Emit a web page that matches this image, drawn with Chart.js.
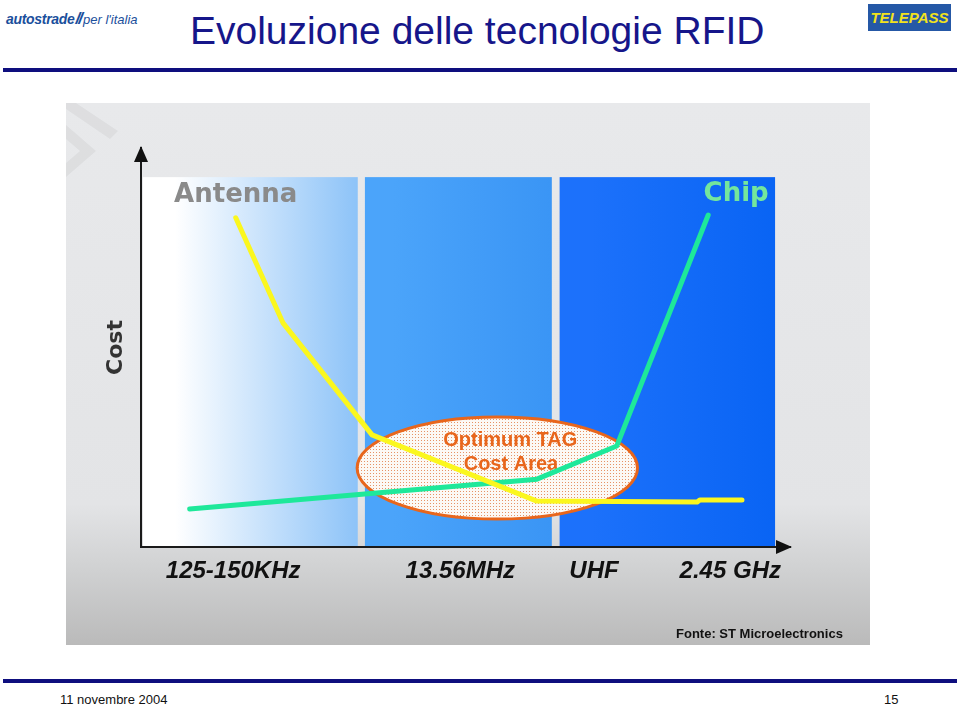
<!DOCTYPE html>
<html lang="it">
<head>
<meta charset="UTF-8">
<title>Evoluzione delle tecnologie RFID</title>
<script src="https://cdn.jsdelivr.net/npm/chart.js"></script>
<style>
  body {
    margin: 0;
    width: 960px;
    height: 708px;
    background: #fff;
    position: relative;
    overflow: hidden;
    font-family: 'Liberation Sans', Arial, sans-serif;
  }
  .logo-left {
    position: absolute;
    left: 6px;
    top: 9px;
    font-size: 14px;
    color: #1b4f9c;
    white-space: nowrap;
  }
  .logo-left b { font-style: italic; letter-spacing: -0.3px; }
  .logo-left .bars { font-weight: bold; font-style: italic; font-size: 17px; letter-spacing: -2px; margin: 0 2px 0 1px; }
  .logo-left i { font-weight: normal; font-size: 13px; }
  .title {
    position: absolute;
    left: 190px;
    top: 11px;
    font-size: 39px;
    line-height: 39px;
    color: #16168a;
    white-space: nowrap;
  }
  .rule {
    position: absolute;
    left: 3px;
    width: 954px;
    height: 4px;
    background: #0e0e7e;
  }
  .telepass {
    position: absolute;
    left: 868px;
    top: 4px;
    width: 83px;
    height: 27px;
    background: #2558a6;
    color: #f2e21c;
    font-weight: bold;
    font-style: italic;
    font-size: 15px;
    line-height: 27px;
    text-align: center;
  }
  #wrap {
    position: absolute;
    left: 66px;
    top: 103px;
    width: 804px;
    height: 542px;
  }
  .foot {
    position: absolute;
    top: 692px;
    font-size: 13px;
    color: #111;
  }
</style>
</head>
<body>

<div class="logo-left"><b>autostrade</b><span class="bars">//</span><i>per l'italia</i></div>
<div class="title">Evoluzione delle tecnologie RFID</div>
<div class="telepass">TELEPASS</div>
<div class="rule" style="top:68px"></div>

<div id="wrap"><canvas id="chart" width="804" height="542"></canvas></div>

<div class="rule" style="top:679px"></div>
<div class="foot" style="left:60px">11 novembre 2004</div>
<div class="foot" style="left:884px">15</div>

<script>
  // frequency band axis (0-100) and relative cost (0-100)
  const tickPos = [14.2, 49.2, 69.8, 90.8];
  const tickLabels = ['125-150KHz', '13.56MHz', 'UHF', '2.45 GHz'];

  const antennaX = [14.6, 21.9, 35.6, 61.0, 85.7, 86.1, 92.6];
  const antennaY = [82.5, 56.1, 28.1, 11.5, 11.3, 11.8, 11.8];

  const chipX = [7.5, 61.0, 73.3, 87.4];
  const chipY = [9.5, 17.0, 25.3, 83.2];

  // coloured frequency bands
  const bandStart = [0.3, 34.5, 64.5];
  const bandEnd = [33.4, 63.3, 97.7];
  const bandTop = 92.7;

  // optimum cost area (centre and radii in axis units)
  const optimum = { x: 54.9, y: 19.8, rx: 21.6, ry: 12.8 };

  const bandColors = [
    ['#ffffff', '#ffffff', '#8dc3f8'],
    ['#4ba4fa', '#4ba4fa', '#3a95f5'],
    ['#1c71fb', '#1c71fb', '#0964f4']
  ];

  function dotPattern(ctx) {
    const c = document.createElement('canvas');
    c.width = 3; c.height = 3;
    const p = c.getContext('2d');
    p.fillStyle = '#fcf9f5';
    p.fillRect(0, 0, 3, 3);
    p.fillStyle = '#e69366';
    p.fillRect(1, 1, 1, 1);
    return ctx.createPattern(c, 'repeat');
  }

  const backdrop = {
    id: 'backdrop',
    beforeDraw(chart) {
      const { ctx, width, height, scales: { x, y } } = chart;
      ctx.save();
      const g = ctx.createLinearGradient(0, 0, 0, height);
      g.addColorStop(0, '#e8e9eb');
      g.addColorStop(0.74, '#e3e4e6');
      g.addColorStop(0.86, '#d0d1d2');
      g.addColorStop(1, '#bababa');
      ctx.fillStyle = g;
      ctx.fillRect(0, 0, width, height);

      // faint chevrons top left
      ctx.fillStyle = 'rgba(0,0,0,0.045)';
      ctx.beginPath();
      ctx.moveTo(0, 22); ctx.lineTo(30, 48); ctx.lineTo(0, 74); ctx.lineTo(0, 60);
      ctx.lineTo(14, 48); ctx.lineTo(0, 36);
      ctx.fill();
      ctx.beginPath();
      ctx.moveTo(10, 0); ctx.lineTo(52, 28); ctx.lineTo(44, 36); ctx.lineTo(0, 6); ctx.lineTo(0, 0);
      ctx.fill();

      const yTop = y.getPixelForValue(bandTop);
      const yBot = y.getPixelForValue(0);
      bandStart.forEach((s, i) => {
        const x0 = x.getPixelForValue(s);
        const x1 = x.getPixelForValue(bandEnd[i]);
        const bg = ctx.createLinearGradient(x0, 0, x1, 0);
        bg.addColorStop(0, bandColors[i][0]);
        bg.addColorStop(0.15, bandColors[i][1]);
        bg.addColorStop(1, bandColors[i][2]);
        ctx.fillStyle = bg;
        ctx.fillRect(x0, yTop, x1 - x0, yBot - yTop);
      });
      ctx.restore();
    },
    beforeDatasetsDraw(chart) {
      const { ctx, scales: { x, y } } = chart;
      const cx = x.getPixelForValue(optimum.x);
      const cy = y.getPixelForValue(optimum.y);
      const rx = x.getPixelForValue(optimum.x + optimum.rx) - cx;
      const ry = cy - y.getPixelForValue(optimum.y + optimum.ry);
      ctx.save();
      ctx.beginPath();
      ctx.ellipse(cx, cy, rx, ry, 0, 0, Math.PI * 2);
      ctx.fillStyle = dotPattern(ctx);
      ctx.fill();
      ctx.lineWidth = 3;
      ctx.strokeStyle = '#e8661c';
      ctx.stroke();
      ctx.fillStyle = '#e8661c';
      ctx.font = 'bold 20px "Liberation Sans", Arial, sans-serif';
      ctx.textAlign = 'center';
      ctx.textBaseline = 'middle';
      ctx.fillText('Optimum TAG', x.getPixelForValue(56.9), y.getPixelForValue(26.8));
      ctx.fillText('Cost Area', x.getPixelForValue(57.0), y.getPixelForValue(20.6));
      ctx.restore();
    },
    afterDraw(chart) {
      const { ctx, chartArea: a, scales: { x, y } } = chart;
      ctx.save();
      ctx.font = 'bold 26px "DejaVu Sans", sans-serif';
      ctx.textAlign = 'center';
      ctx.textBaseline = 'middle';
      ctx.fillStyle = '#8a8a8a';
      ctx.fillText('Antenna', x.getPixelForValue(14.6), y.getPixelForValue(88.2));
      ctx.fillStyle = '#74e69c';
      ctx.fillText('Chip', x.getPixelForValue(91.7), y.getPixelForValue(88.5));

      // axis arrow heads
      ctx.fillStyle = '#111';
      ctx.beginPath();
      ctx.moveTo(a.left, a.top - 2);
      ctx.lineTo(a.left - 7, a.top + 14);
      ctx.lineTo(a.left + 7, a.top + 14);
      ctx.fill();
      ctx.beginPath();
      ctx.moveTo(a.right + 2, a.bottom);
      ctx.lineTo(a.right - 14, a.bottom - 7);
      ctx.lineTo(a.right - 14, a.bottom + 7);
      ctx.fill();

      ctx.font = 'bold 13px "Liberation Sans", Arial, sans-serif';
      ctx.textAlign = 'left';
      ctx.fillText('Fonte: ST Microelectronics', 610, 531);
      ctx.restore();
    }
  };

  const axisFont = { family: '"Liberation Sans", Arial, sans-serif', size: 24, weight: 'bold', style: 'italic' };

  new Chart(document.getElementById('chart'), {
    type: 'line',
    data: {
      datasets: [{
        label: 'Antenna',
        data: antennaX.map((v, i) => ({ x: v, y: antennaY[i] })),
        borderColor: '#fbf71e',
        borderWidth: 5,
        pointRadius: 0,
        borderJoinStyle: 'round',
        borderCapStyle: 'round'
      }, {
        label: 'Chip',
        data: chipX.map((v, i) => ({ x: v, y: chipY[i] })),
        borderColor: '#1ee89a',
        borderWidth: 5,
        pointRadius: 0,
        borderJoinStyle: 'round',
        borderCapStyle: 'round'
      }]
    },
    options: {
      responsive: false,
      animation: false,
      layout: { padding: { top: 45, right: 80, left: 0, bottom: 0 } },
      plugins: { legend: { display: false }, tooltip: { enabled: false } },
      scales: {
        x: {
          type: 'linear',
          min: 0,
          max: 100,
          grid: { display: false, drawTicks: false },
          border: { color: '#1a1a1a', width: 2 },
          afterFit: s => { s.height = 98; },
          afterBuildTicks: s => { s.ticks = tickPos.map(v => ({ value: v })); },
          ticks: {
            autoSkip: false,
            maxRotation: 0,
            padding: 10,
            color: '#111',
            font: axisFont,
            callback: (v, i) => tickLabels[i]
          }
        },
        y: {
          min: 0,
          max: 100,
          grid: { display: false, drawTicks: false },
          ticks: { display: false },
          border: { color: '#1a1a1a', width: 2 },
          afterFit: s => { s.width = 75; },
          title: {
            display: true,
            text: 'Cost',
            color: '#333',
            padding: { top: 37, bottom: 0 },
            font: { family: '"DejaVu Sans", sans-serif', size: 22, weight: 'bold' }
          }
        }
      }
    },
    plugins: [backdrop]
  });
</script>

</body>
</html>
